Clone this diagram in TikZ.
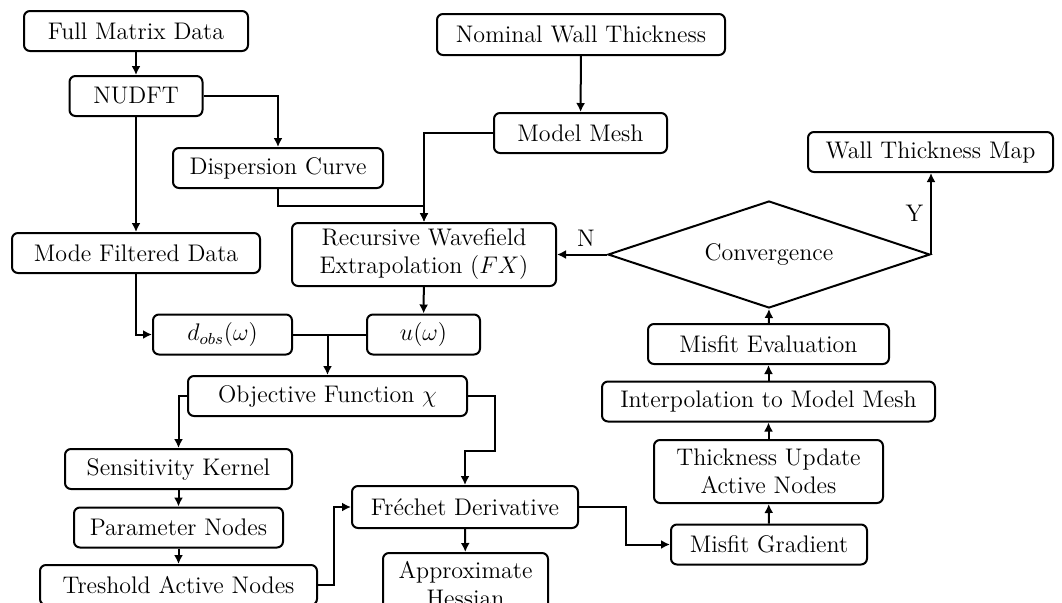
\documentclass[tikz,border=0pt]{standalone}
\usepackage{amsmath,amssymb}
\usepackage{tikz}
\usetikzlibrary{arrows.meta,calc,shapes.geometric}

\begin{document}
\begin{tikzpicture}[x=0.5pt,y=-0.5pt,
  every node/.style={font=\large,align=center},
  blk/.style={draw,rounded corners=3pt,line width=1pt,minimum height=20pt,inner sep=2pt},
  dec/.style={draw,diamond,shape aspect=3,line width=1pt,minimum width=161pt,minimum height=53.5pt,inner sep=0pt},
  arr/.style={line width=1pt,-{Latex[length=4.5pt,width=4.5pt]}},
  ln/.style={line width=1pt}]
  \useasboundingbox (0,0) rectangle (1062,602);
  % data branch
  \node[blk,minimum width=112pt] (fmd) at (136,31) {Full Matrix Data};
  \node[blk,minimum width=66.5pt] (nudft) at (136,96) {NUDFT};
  \node[blk,minimum width=105pt] (disp) at (278,168) {Dispersion Curve};
  \node[blk,minimum width=124pt] (mfd) at (136,253) {Mode Filtered Data};
  % model branch
  \node[blk,minimum width=144pt,minimum height=20.5pt] (nwt) at (581,34.5) {Nominal Wall Thickness};
  \node[blk,minimum width=86.5pt] (mesh) at (580.5,133) {Model Mesh};
  \node[blk,minimum width=132pt,minimum height=31.5pt] (rwe) at (424,254.5) {Recursive Wavefield\\Extrapolation $(FX)$};
  \node[blk,minimum width=69.5pt] (dobs) at (222.5,334.5) {$d_{obs}(\omega)$};
  \node[blk,minimum width=56.5pt] (uw) at (423.5,334.5) {$u(\omega)$};
  \node[blk,minimum width=139.5pt] (obj) at (327.5,396) {Objective Function $\chi$};
  % inversion
  \node[blk,minimum width=113.5pt] (sens) at (178.5,469) {Sensitivity Kernel};
  \node[blk,minimum width=104.5pt] (par) at (178.5,527.5) {Parameter Nodes};
  \node[blk,minimum width=138.5pt] (thr) at (178.5,585) {Treshold Active Nodes};
  \node[blk,minimum width=113pt,minimum height=21pt] (fre) at (465,507) {Fréchet Derivative};
  \node[blk,minimum width=82.5pt,minimum height=31.5pt] (hess) at (465.5,584.5) {Approximate\\Hessian};
  \node[blk,minimum width=98pt] (grad) at (769,544.5) {Misfit Gradient};
  \node[blk,minimum width=114.5pt,minimum height=31.5pt] (thick) at (768.5,471.5) {Thickness Update\\Active Nodes};
  \node[blk,minimum width=166.5pt] (interp) at (768.5,401.5) {Interpolation to Model Mesh};
  \node[blk,minimum width=120.5pt] (eval) at (768.5,344) {Misfit Evaluation};
  \node[dec] (conv) at (769,254.5) {Convergence};
  \node[blk,minimum width=122.5pt] (wtm) at (930.5,152) {Wall Thickness Map};

  \draw[arr] (fmd) -- (nudft);
  \draw[arr] (nudft.east) -| (disp.north);
  \draw[arr] (nudft) -- (mfd);
  \draw[arr] (disp.south) -- ++(0,17) -| (rwe.north);
  \draw[arr] (nwt) -- (mesh);
  \draw[arr] (mesh.west) -| (rwe.north);
  \draw[arr] (mfd.south) |- (dobs.west);
  \draw[ln] (dobs) -- (uw);
  \draw[arr] (obj.north |- dobs.east) -- (obj.north);
  \draw[arr] (rwe) -- (uw);
  \draw[arr] (obj.west) -| (sens.north);
  \draw[arr] (sens) -- (par);
  \draw[arr] (par) -- (thr);
  \draw[arr] (obj.east) -- ++(27,0) |- ($(fre.north)+(0,-34)$) -- (fre.north);
  \draw[arr] (thr.east) -- ++(16,0) |- (fre.west);
  \draw[arr] (fre) -- (hess);
  \draw[arr] (fre.east) -- ++(47,0) |- (grad.west);
  \draw[arr] (grad) -- (thick);
  \draw[arr] (thick) -- (interp);
  \draw[arr] (interp) -- (eval);
  \draw[arr] (eval) -- (conv.south);
  \draw[arr] (conv.west) -- node[pos=0.42,above] {N} (rwe.east);
  \draw[arr] (conv.east) -- node[midway,left] {Y} (conv.east |- wtm.south);
\end{tikzpicture}
\end{document}
